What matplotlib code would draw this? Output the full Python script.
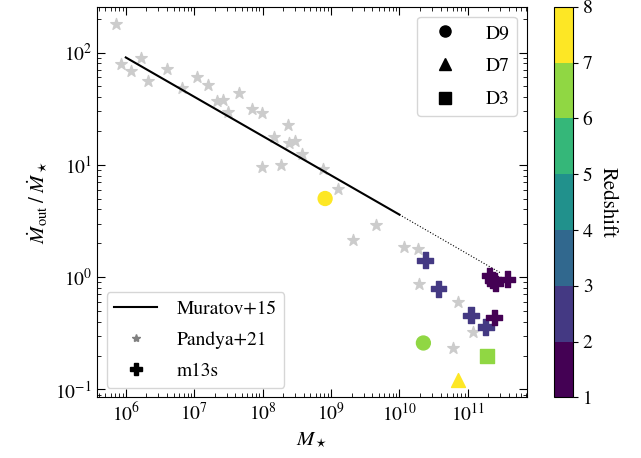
import numpy as np
import matplotlib
matplotlib.use('Agg')
import matplotlib.pyplot as plt
from matplotlib.lines import Line2D

plt.rcParams['font.family'] = 'STIXGeneral'
plt.rcParams['mathtext.fontset'] = 'stix'

# Pandya+21 points
pandya_mass = [7.1e5, 8.5e5, 1.2e6, 1.67e6, 2.14e6, 3.97e6, 6.7e6, 1.11e7, 1.58e7,
               2.18e7, 2.67e7, 3.16e7, 4.53e7, 6.95e7, 9.93e7, 1.49e8, 2.38e8, 2.46e8,
               2.99e8, 3.82e8, 9.7e7, 1.86e8, 7.6e8, 1.28e9, 4.56e9, 2.12e9, 1.17e10,
               1.90e10, 1.96e10, 7.29e10, 1.17e11, 6.04e10]
pandya_eta = [179, 79.8, 68.5, 89.5, 56.3, 71, 48.8, 60.3, 51.4,
              36.8, 38.1, 29.6, 43.2, 31.3, 29.2, 17.7, 22.6, 15.7,
              16.3, 12.6, 9.57, 9.97, 9.2, 6.15, 2.94, 2.13, 1.86,
              1.78, 0.865, 0.597, 0.325, 0.234]

# Muratov+15 relation (solid range, then extrapolated)
muratov_mass = [1e6, 1e10]
muratov_eta = [90.4, 3.6]
muratov_ext_mass = [1e10, 3e11]
muratov_ext_eta = [3.6, 1.09]

# m13s
m13_mass = [2.38e10, 3.72e10, 1.11e11, 1.83e11, 2.07e11, 2.32e11, 2.51e11, 3.8e11, 2.43e11]
m13_eta = [1.41, 0.79, 0.458, 0.36, 1.03, 0.94, 0.877, 0.957, 0.436]
m13_z = [2.5, 2.5, 2.5, 2.5, 1.5, 1.5, 1.5, 1.5, 1.5]

# D9 / D7 / D3
d9_mass = [8.2e8, 2.24e10]
d9_eta = [5.01, 0.259]
d9_z = [7.5, 6.5]
d7_mass = [7.3e10]
d7_eta = [0.121]
d7_z = [7.5]
d3_mass = [1.9e11]
d3_eta = [0.199]
d3_z = [6.5]

cmap = plt.get_cmap('viridis', 7)
norm = matplotlib.colors.Normalize(vmin=1, vmax=8)

fig = plt.figure(figsize=(6.41, 4.58), dpi=100)
ax = fig.add_axes([0.151, 0.1325, 0.671, 0.8525])
cax = fig.add_axes([0.864, 0.1325, 0.030, 0.8525])

ax.scatter(pandya_mass, pandya_eta, marker='*', s=75, color='#cccccc', zorder=2)
ax.plot(muratov_mass, muratov_eta, color='black', lw=1.5, zorder=3)
ax.plot(muratov_ext_mass, muratov_ext_eta, color='black', lw=0.8, ls=':', zorder=3)

ax.scatter(m13_mass, m13_eta, marker='P', s=130, c=m13_z, cmap=cmap, norm=norm, zorder=4)
ax.scatter(d9_mass, d9_eta, marker='o', s=100, c=d9_z, cmap=cmap, norm=norm, zorder=4)
ax.scatter(d7_mass, d7_eta, marker='^', s=100, c=d7_z, cmap=cmap, norm=norm, zorder=4)
sc = ax.scatter(d3_mass, d3_eta, marker='s', s=100, c=d3_z, cmap=cmap, norm=norm, zorder=4)

ax.set_xscale('log')
ax.set_yscale('log')
ax.set_xlim(3.77e5, 7.3e11)
ax.set_ylim(0.085, 255)
ax.set_xticks([1e6, 1e7, 1e8, 1e9, 1e10, 1e11])
ax.tick_params(which='both', direction='in', top=True, right=True, labelsize=14)
ax.tick_params(which='major', length=6)
ax.tick_params(which='minor', length=3)
ax.set_xlabel(r'$M_\star$', fontsize=15)
ax.set_ylabel(r'$\dot{M}_{\rm out}\;/\;\dot{M}_\star$', fontsize=15)

h1 = [Line2D([], [], color='black', lw=1.5),
      Line2D([], [], marker='*', ls='', color='gray', markersize=6),
      Line2D([], [], marker='P', ls='', color='black', markersize=8)]
leg1 = ax.legend(h1, ['Muratov+15', 'Pandya+21', 'm13s'], loc='lower left',
                 fontsize=14, edgecolor='#cccccc', labelspacing=0.7,
                 handlelength=2.2, handletextpad=1.0)
ax.add_artist(leg1)

h2 = [Line2D([], [], marker='o', ls='', color='black', markersize=8),
      Line2D([], [], marker='^', ls='', color='black', markersize=8),
      Line2D([], [], marker='s', ls='', color='black', markersize=8)]
ax.legend(h2, ['D9', 'D7', 'D3'], loc='upper right', fontsize=14,
          edgecolor='#cccccc', handletextpad=1.1, labelspacing=0.8)

cb = fig.colorbar(sc, cax=cax, ticks=range(1, 9))
cb.ax.tick_params(labelsize=14)
cb.set_label('Redshift', fontsize=15, rotation=270, labelpad=18)

fig.savefig('out.png', dpi=100)
